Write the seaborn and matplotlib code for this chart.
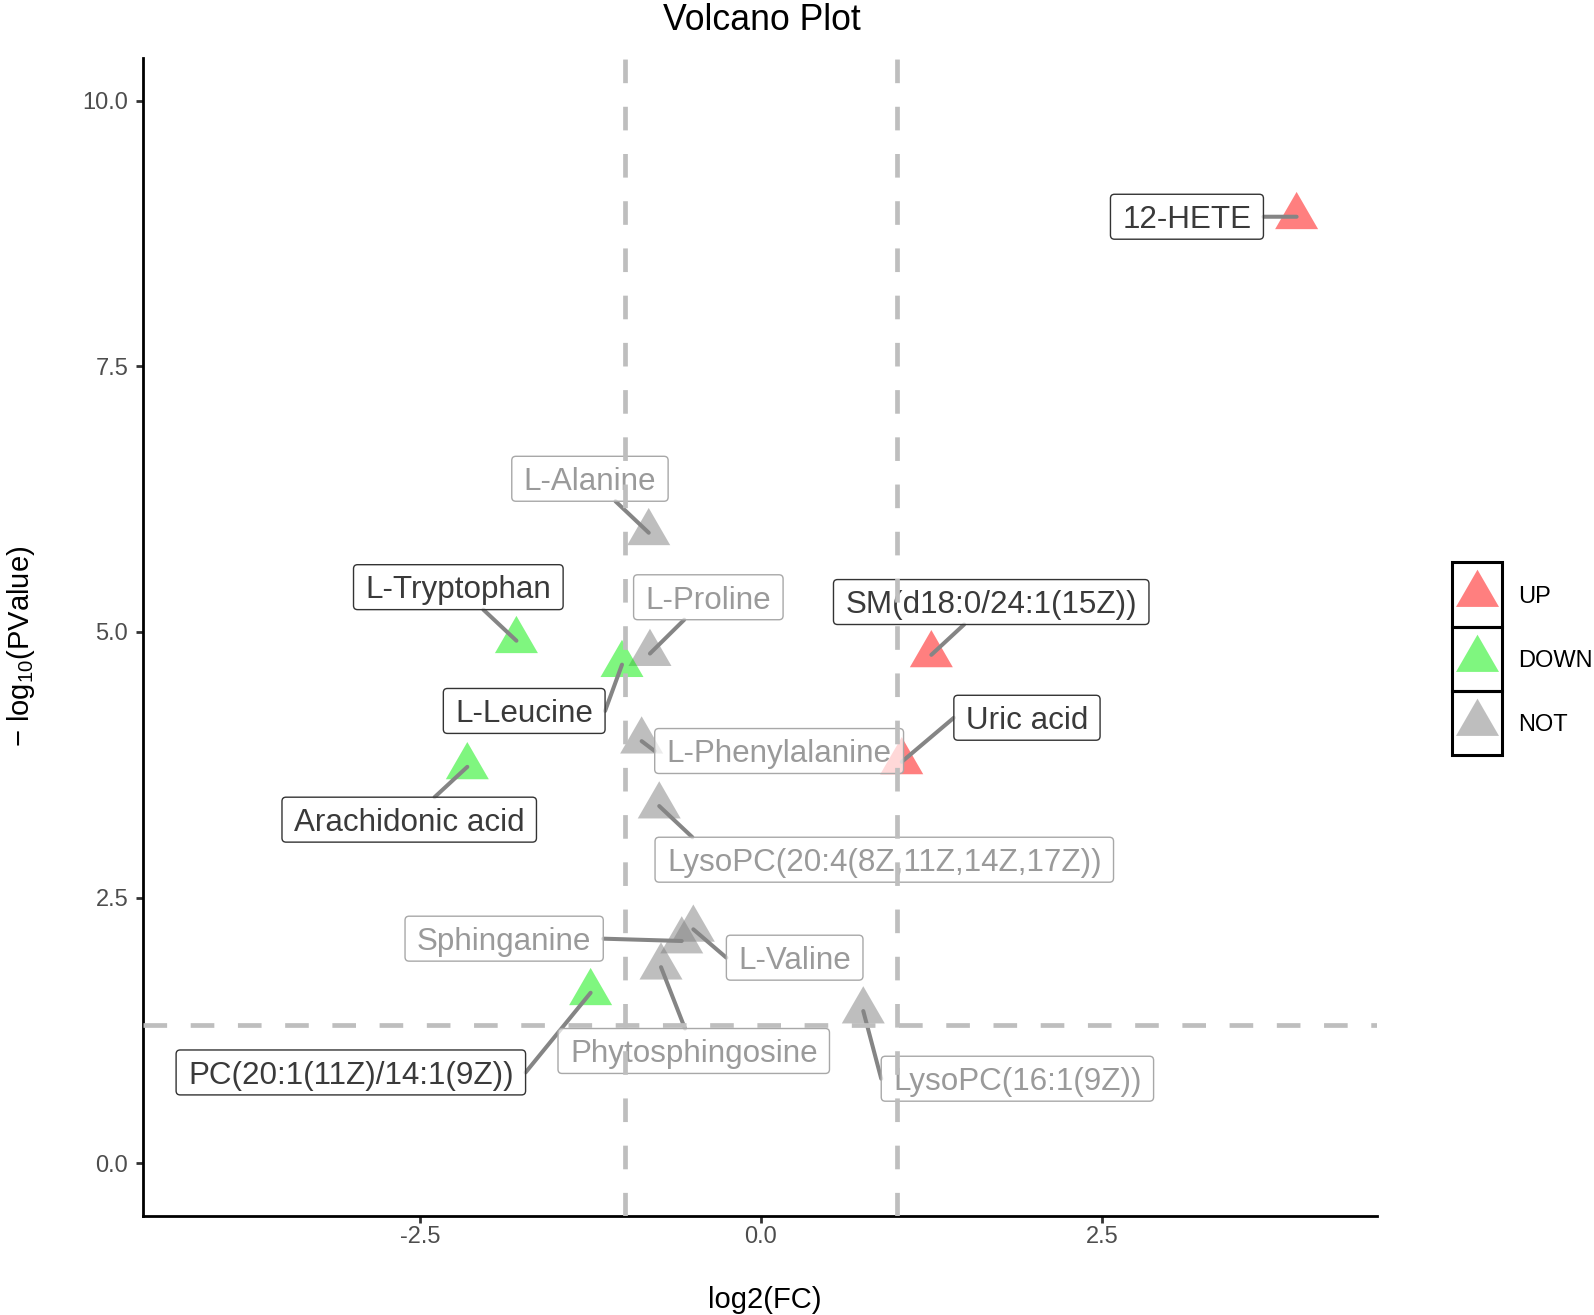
import numpy as np
import pandas as pd
import matplotlib
matplotlib.use("Agg")
import matplotlib.pyplot as plt
import seaborn as sns
from matplotlib.path import Path
from matplotlib.patches import Rectangle
from matplotlib.transforms import ScaledTranslation

# ---------------- data ----------------
metabolites = ["12-HETE", "SM(d18:0/24:1(15Z))", "Uric acid", "L-Alanine", "L-Proline",
               "L-Tryptophan", "L-Leucine", "L-Phenylalanine", "Arachidonic acid",
               "LysoPC(20:4(8Z,11Z,14Z,17Z))", "L-Valine", "Sphinganine", "Phytosphingosine",
               "PC(20:1(11Z)/14:1(9Z))", "LysoPC(16:1(9Z))"]
log2fc = [3.927, 1.249, 1.032, -0.823, -0.814, -1.793, -1.019, -0.875, -2.153,
          -0.746, -0.496, -0.581, -0.733, -1.249, 0.750]
neg_log10_p = [8.908, 4.785, 3.778, 5.934, 4.797, 4.918, 4.693, 3.973, 3.731,
               3.362, 2.202, 2.092, 1.846, 1.605, 1.433]
group_order = ["UP", "DOWN", "NOT"]
fc_cut = 1.0
p_cut = 0.05
x_ticks = [-2.5, 0.0, 2.5]
y_ticks = [0.0, 2.5, 5.0, 7.5, 10.0]

# label placement (layout, like ggrepel result)
label_x = [3.123, 1.688, 1.950, -1.254, -0.386, -2.219, -1.736, 0.133, -2.579,
           0.904, 0.247, -1.883, -0.493, -3.007, 1.880]
label_y = [8.908, 5.282, 4.193, 6.442, 5.327, 5.422, 4.257, 3.880, 3.234,
           2.857, 1.935, 2.114, 1.057, 0.855, 0.796]

df = pd.DataFrame({"name": metabolites, "log2FC": log2fc, "nlp": neg_log10_p})
p_line = -np.log10(p_cut)
df["group"] = np.where((df.log2FC > fc_cut) & (df.nlp > p_line), "UP",
                       np.where((df.log2FC < -fc_cut) & (df.nlp > p_line), "DOWN", "NOT"))

# ---------------- style ----------------
sns.set_theme(style="ticks")
plt.rcParams["font.family"] = ["Liberation Sans", "DejaVu Sans"]
plt.rcParams["mathtext.fontset"] = "custom"
plt.rcParams["mathtext.rm"] = "Liberation Sans"
plt.rcParams["mathtext.it"] = "Liberation Sans:italic"
plt.rcParams["mathtext.bf"] = "Liberation Sans:bold"
plt.rcParams["axes.unicode_minus"] = False

palette = {"UP": "#FF0000", "DOWN": "#00EE00", "NOT": "#7F7F7F"}
s3 = np.sqrt(3.0)
tri = np.array([(0.0, 2 / s3), (-1.0, -1 / s3), (1.0, -1 / s3), (0.0, 2 / s3)])
marker_s = 1278

W, H = 1594, 1315
fig = plt.figure(figsize=(W / 100, H / 100), dpi=100)
ax = fig.add_axes([142.7 / W, 1 - 1216 / H, (1377.5 - 142.7) / W, (1216 - 58.3) / H])

sns.scatterplot(data=df, x="log2FC", y="nlp", hue="group", hue_order=group_order,
                palette=palette, marker=tri, s=marker_s, alpha=0.5, linewidth=0,
                edgecolor="none", legend=False, ax=ax, zorder=2)

XLIM = (-4.533, 4.520)
YLIM = (-0.496, 10.399)
ax.set_xlim(*XLIM)
ax.set_ylim(*YLIM)

# label boxes (rounded, ggrepel-like)
PADX, PADB, PADT, RAD = 0.38, 0.133, 0.343, 0.13


def label_box(x0, y0, width, height, mutation_size):
    px = PADX * mutation_size
    pb = PADB * mutation_size
    pt = PADT * mutation_size
    r = RAD * mutation_size
    xa, ya = x0 - px, y0 - pb
    xb, yb = x0 + width + px, y0 + height + pt
    verts = [(xa + r, ya), (xb - r, ya), (xb, ya), (xb, ya + r), (xb, yb - r), (xb, yb),
             (xb - r, yb), (xa + r, yb), (xa, yb), (xa, yb - r), (xa, ya + r), (xa, ya),
             (xa + r, ya), (xa + r, ya)]
    codes = [Path.MOVETO, Path.LINETO, Path.CURVE3, Path.CURVE3, Path.LINETO, Path.CURVE3,
             Path.CURVE3, Path.LINETO, Path.CURVE3, Path.CURVE3, Path.LINETO, Path.CURVE3,
             Path.CURVE3, Path.CLOSEPOLY]
    return Path(verts, codes)


text_trans = ax.transData + ScaledTranslation(0, -3.3 / 100, fig.dpi_scale_trans)
texts = []
for i, row in df.iterrows():
    if row.group == "NOT":
        tc, ec = "#9A9A9A", "#A8A8A8"
    else:
        tc, ec = "#3A3A3A", "#333333"
    t = ax.text(label_x[i], label_y[i], row["name"], transform=text_trans,
                ha="center", va="center", fontsize=22.6, color=tc, zorder=4,
                bbox=dict(boxstyle=label_box, fc=(1, 1, 1, 0.7), ec=ec, lw=1.0))
    texts.append(t)

# segments from point to label box (ggrepel-like connection)
fig.canvas.draw()
renderer = fig.canvas.get_renderer()
inv = ax.transData.inverted()
MAX_SHIFT = 57.0  # px


def entry_point(P, T, bb):
    dx, dy = T[0] - P[0], T[1] - P[1]
    t0 = 0.0
    for p, q in ((-dx, P[0] - bb.x0), (dx, bb.x1 - P[0]),
                 (-dy, P[1] - bb.y0), (dy, bb.y1 - P[1])):
        if p == 0:
            continue
        r = q / p
        if p < 0:
            t0 = max(t0, r)
    return (P[0] + t0 * dx, P[1] + t0 * dy)


for i, row in df.iterrows():
    bb = texts[i].get_bbox_patch().get_window_extent(renderer)
    P = ax.transData.transform((row.log2FC, row.nlp))
    cx, cy = (bb.x0 + bb.x1) / 2, (bb.y0 + bb.y1) / 2
    if P[0] < bb.x0:
        tx = bb.x0
    elif P[0] > bb.x1:
        tx = bb.x1
    else:
        d = cx - P[0]
        tx = P[0] + np.sign(d) * min(abs(d), MAX_SHIFT)
    E = entry_point(P, (tx, cy), bb)
    ex, ey = inv.transform(E)
    ax.plot([row.log2FC, ex], [row.nlp, ey], color="#858585", lw=2.9,
            solid_capstyle="round", zorder=3)

# threshold lines on top
for xv in (-fc_cut, fc_cut):
    ax.axvline(xv, color="#BEBEBE", lw=3.4, dashes=(5, 5), zorder=5)
ax.axhline(p_line, color="#BEBEBE", lw=3.4, dashes=(5, 5), zorder=5)

ax.set_xlim(*XLIM)
ax.set_ylim(*YLIM)
ax.set_xticks(x_ticks)
ax.set_xticklabels([f"{v:.1f}" for v in x_ticks])
ax.set_yticks(y_ticks)
ax.set_yticklabels([f"{v:.1f}" for v in y_ticks])
ax.tick_params(axis="x", length=4.9, width=2, color="#333333", labelsize=17,
               labelcolor="#4D4D4D", pad=2, direction="out")
ax.tick_params(axis="y", length=4.9, width=2, color="#333333", labelsize=17,
               labelcolor="#4D4D4D", pad=5.5, direction="out")
for sp in ("top", "right"):
    ax.spines[sp].set_visible(False)
for sp in ("left", "bottom"):
    ax.spines[sp].set_linewidth(2.0)
    ax.spines[sp].set_color("black")
ax.grid(False)

ax.set_xlabel("log2(FC)", fontsize=21, color="black")
ax.xaxis.set_label_coords(0.504, -0.0798)
ax.xaxis.label.set_va("baseline")
ax.set_ylabel(r"− log$_{10}$(PValue)", fontsize=21, color="black")
ax.yaxis.set_label_coords(-0.0987, 0.492)
ax.yaxis.label.set_va("center")
ax.yaxis.label.set_ha("center")

fig.text(762 / W, 1 - 30 / H, "Volcano Plot", ha="center", va="baseline",
         fontsize=25.7, color="black")

# legend (keys with black frames)
lax = fig.add_axes([1452.3 / W, 1 - 755 / H, 49.4 / W, 192.7 / H])
lax.set_xlim(0, 1)
lax.set_ylim(0, 3)
lax.axis("off")
for i, g in enumerate(group_order):
    yb = 2 - i
    lax.add_patch(Rectangle((0, yb), 1, 1, fill=False, ec="black", lw=2.2, clip_on=False))
    lax.scatter([0.5], [yb + 0.5], marker=tri, s=marker_s, c=palette[g], alpha=0.5,
                linewidths=0, clip_on=False)
    lax.text(1.336, yb + 0.5 - 0.132, g, ha="left", va="baseline", fontsize=17,
             color="black")

fig.savefig("out.png", dpi=100)
